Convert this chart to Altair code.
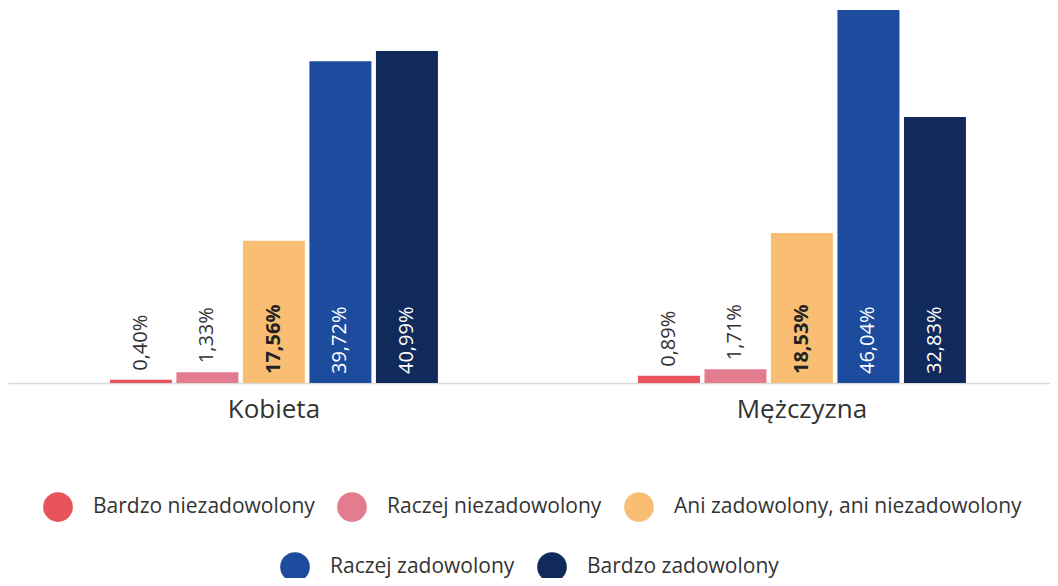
import altair as alt
import pandas as pd

groups = ["Kobieta", "Mężczyzna"]
categories = [
    "Bardzo niezadowolony",
    "Raczej niezadowolony",
    "Ani zadowolony, ani niezadowolony",
    "Raczej zadowolony",
    "Bardzo zadowolony",
]
kobieta = [0.40, 1.33, 17.56, 39.72, 40.99]
mezczyzna = [0.89, 1.71, 18.53, 46.04, 32.83]
colors = ["#E9545C", "#E47C8F", "#F9BE74", "#1D4C9E", "#0F2A5B"]

rows = []
for g, vals in zip(groups, [kobieta, mezczyzna]):
    for c, v in zip(categories, vals):
        rows.append({"group": g, "category": c, "value": v})
df = pd.DataFrame(rows)

FONT = "Open Sans"

x = alt.X(
    "group:N",
    sort=groups,
    scale=alt.Scale(paddingInner=0.3788, paddingOuter=0.1761, align=0.548),
    axis=alt.Axis(
        title=None, labelAngle=0, labelFontSize=26, labelFont=FONT,
        labelColor="#333333", ticks=False, domainColor="#d9d9d9",
        domainWidth=1.5, labelPadding=13,
    ),
)
xo = alt.XOffset(
    "category:N", sort=categories,
    scale=alt.Scale(domain=categories, paddingInner=0.068, paddingOuter=0),
)
y_scale = alt.Scale(domain=[0, 46.3], nice=False, zero=True)


def legend(values_x, values_y):
    return alt.Legend(
        orient="none", legendX=values_x, legendY=values_y,
        direction="horizontal", title=None, symbolType="circle",
        symbolSize=880, symbolStrokeWidth=0, labelFontSize=21,
        labelFont=FONT, labelColor="#333333", labelOffset=20,
        columnPadding=22, labelLimit=600,
    )


base = alt.Chart(df)

bars_a = base.transform_filter(
    alt.FieldOneOfPredicate(field="category", oneOf=categories[:3])
).mark_bar().encode(
    x=x, xOffset=xo,
    y=alt.Y("value:Q", scale=y_scale, axis=None),
    color=alt.Color(
        "category:N",
        scale=alt.Scale(domain=categories[:3], range=colors[:3]),
        legend=legend(35, 484),
    ),
)

bars_b = base.transform_filter(
    alt.FieldOneOfPredicate(field="category", oneOf=categories[3:])
).mark_bar().encode(
    x=x, xOffset=xo,
    y=alt.Y("value:Q", scale=y_scale, axis=None),
    fill=alt.Fill(
        "category:N",
        scale=alt.Scale(domain=categories[3:], range=colors[3:]),
        legend=legend(272, 544),
    ),
)

labeled = base.transform_calculate(
    label="replace(format(datum.value, '.2f'), '.', ',') + '%'",
    ypos="datum.value < 5 ? datum.value : 0",
)

text_normal = labeled.transform_filter(
    alt.datum.category != categories[2]
).mark_text(
    angle=270, align="left", baseline="middle", dx=9, fontSize=20, font=FONT,
).encode(
    x=x, xOffset=xo,
    y=alt.Y("ypos:Q", scale=y_scale, axis=None),
    text="label:N",
    color=alt.condition(
        alt.FieldOneOfPredicate(field="category", oneOf=categories[3:]),
        alt.value("white"), alt.value("#333333"),
    ),
)

text_bold = labeled.transform_filter(
    alt.datum.category == categories[2]
).mark_text(
    angle=270, align="left", baseline="middle", dx=9, fontSize=20, font=FONT,
    fontWeight="bold", color="#222222",
).encode(
    x=x, xOffset=xo,
    y=alt.Y("ypos:Q", scale=y_scale, axis=None),
    text="label:N",
)

chart = alt.layer(bars_a, bars_b, text_normal, text_bold).properties(
    width=1042, height=375,
    autosize=alt.AutoSizeParams(type="none"),
    padding={"left": 0, "top": 0, "right": 0, "bottom": 195},
).configure_view(stroke=None)

chart.save("out.html", embed_options={"renderer": "svg", "actions": False})
